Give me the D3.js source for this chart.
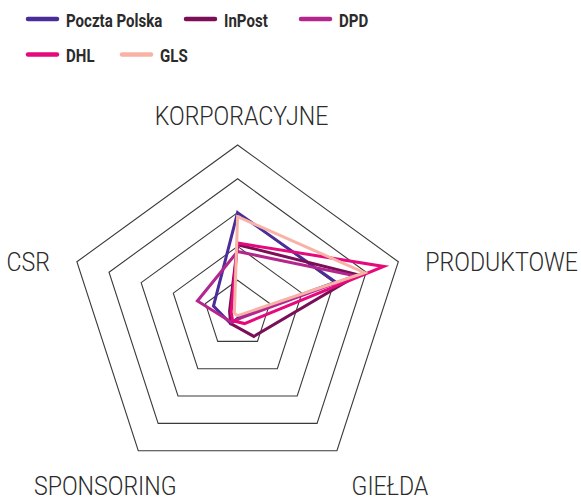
<!DOCTYPE html>
<html>
<head>
<meta charset="utf-8">
<script src="https://cdn.jsdelivr.net/npm/d3@7"></script>
<style>
  html, body { margin: 0; padding: 0; background: #fff; }
  svg { display: block; }
</style>
</head>
<body>
<svg id="chart" width="581" height="502"></svg>
<script>
// ---- data ----
const axes = ["KORPORACYJNE", "PRODUKTOWE", "GIEŁDA", "SPONSORING", "CSR"];
const seriesNames = ["Poczta Polska", "InPost", "DPD", "DHL", "GLS"];
const seriesColors = ["#4a2d98", "#7a0f57", "#b3268e", "#e6097c", "#f8b3a6"];
const pocztaPolska = [3.0, 3.05, 0.1, 0.35, 0.75];
const inPost      = [2.05, 3.75, 0.82, 0.35, 0.25];
const dpd         = [1.85, 3.65, 0.15, 0.3, 1.25];
const dhl         = [2.1, 4.55, 0.35, 0.25, 0.2];
const gls         = [2.88, 3.95, 0.05, 0.05, 0.1];
const ringTicks = [1, 2, 3, 4, 5];

const seriesValues = [pocztaPolska, inPost, dpd, dhl, gls];

// ---- layout ----
const svg = d3.select("#chart");
const cx = 237.6, cy = 314, R = 169;
const rScale = d3.scaleLinear().domain([0, 5]).range([0, R]);
const angle = i => i * 2 * Math.PI / axes.length;

const g = svg.append("g").attr("transform", `translate(${cx},${cy})`);

// grid rings
const ringLine = d3.lineRadial()
  .angle((d, i) => angle(i))
  .radius(d => rScale(d))
  .curve(d3.curveLinearClosed);

g.selectAll("path.ring")
  .data(ringTicks)
  .join("path")
  .attr("class", "ring")
  .attr("d", t => ringLine(axes.map(() => t)))
  .attr("fill", "none")
  .attr("stroke", "#3a3a3a")
  .attr("stroke-width", 1.1);

// series polygons
const seriesLine = d3.lineRadial()
  .angle((d, i) => angle(i))
  .radius(d => rScale(d))
  .curve(d3.curveLinearClosed);

g.selectAll("path.series")
  .data(seriesValues)
  .join("path")
  .attr("class", "series")
  .attr("d", d => seriesLine(d))
  .attr("fill", "none")
  .attr("stroke", (d, i) => seriesColors[i])
  .attr("stroke-width", 3)
  .attr("stroke-linejoin", "miter");

// axis labels
const labelLayout = [
  { dx: 4, dy: -20, anchor: "middle" },
  { dx: 27, dy: 9, anchor: "start" },
  { dx: 53, dy: 44, anchor: "middle" },
  { dx: -33, dy: 44, anchor: "middle" },
  { dx: -27, dy: 9, anchor: "end" }
];
const labelScaleX = 0.89;
axes.forEach((name, i) => {
  const a = angle(i);
  const vx = Math.sin(a) * R, vy = -Math.cos(a) * R;
  const L = labelLayout[i];
  const x = vx + L.dx, y = vy + L.dy;
  g.append("text")
    .attr("transform", `translate(${x},${y}) scale(${labelScaleX},1)`)
    .attr("text-anchor", L.anchor)
    .attr("font-family", "Roboto, 'Open Sans', sans-serif")
    .attr("font-weight", 300)
    .attr("font-size", 26)
    .attr("fill", "#2b2b2b")
    .text(name);
});

// legend
const legendPos = [[28, 19], [186, 19], [301, 19], [28, 54.5], [122, 54.5]];
const legendScaleX = 0.86;
const legend = svg.append("g");
seriesNames.forEach((name, i) => {
  const [lx, ly] = legendPos[i];
  const item = legend.append("g").attr("transform", `translate(${lx},${ly})`);
  item.append("line")
    .attr("x1", 0).attr("x2", 29).attr("y1", 0).attr("y2", 0)
    .attr("stroke", seriesColors[i])
    .attr("stroke-width", 4.5)
    .attr("stroke-linecap", "round");
  item.append("text")
    .attr("transform", `translate(38,7.5) scale(${legendScaleX},1)`)
    .attr("font-family", "Roboto, 'Liberation Sans', sans-serif")
    .attr("font-weight", 700)
    .attr("font-size", 17.5)
    .attr("fill", "#2b2b2b")
    .text(name);
});
</script>
</body>
</html>
